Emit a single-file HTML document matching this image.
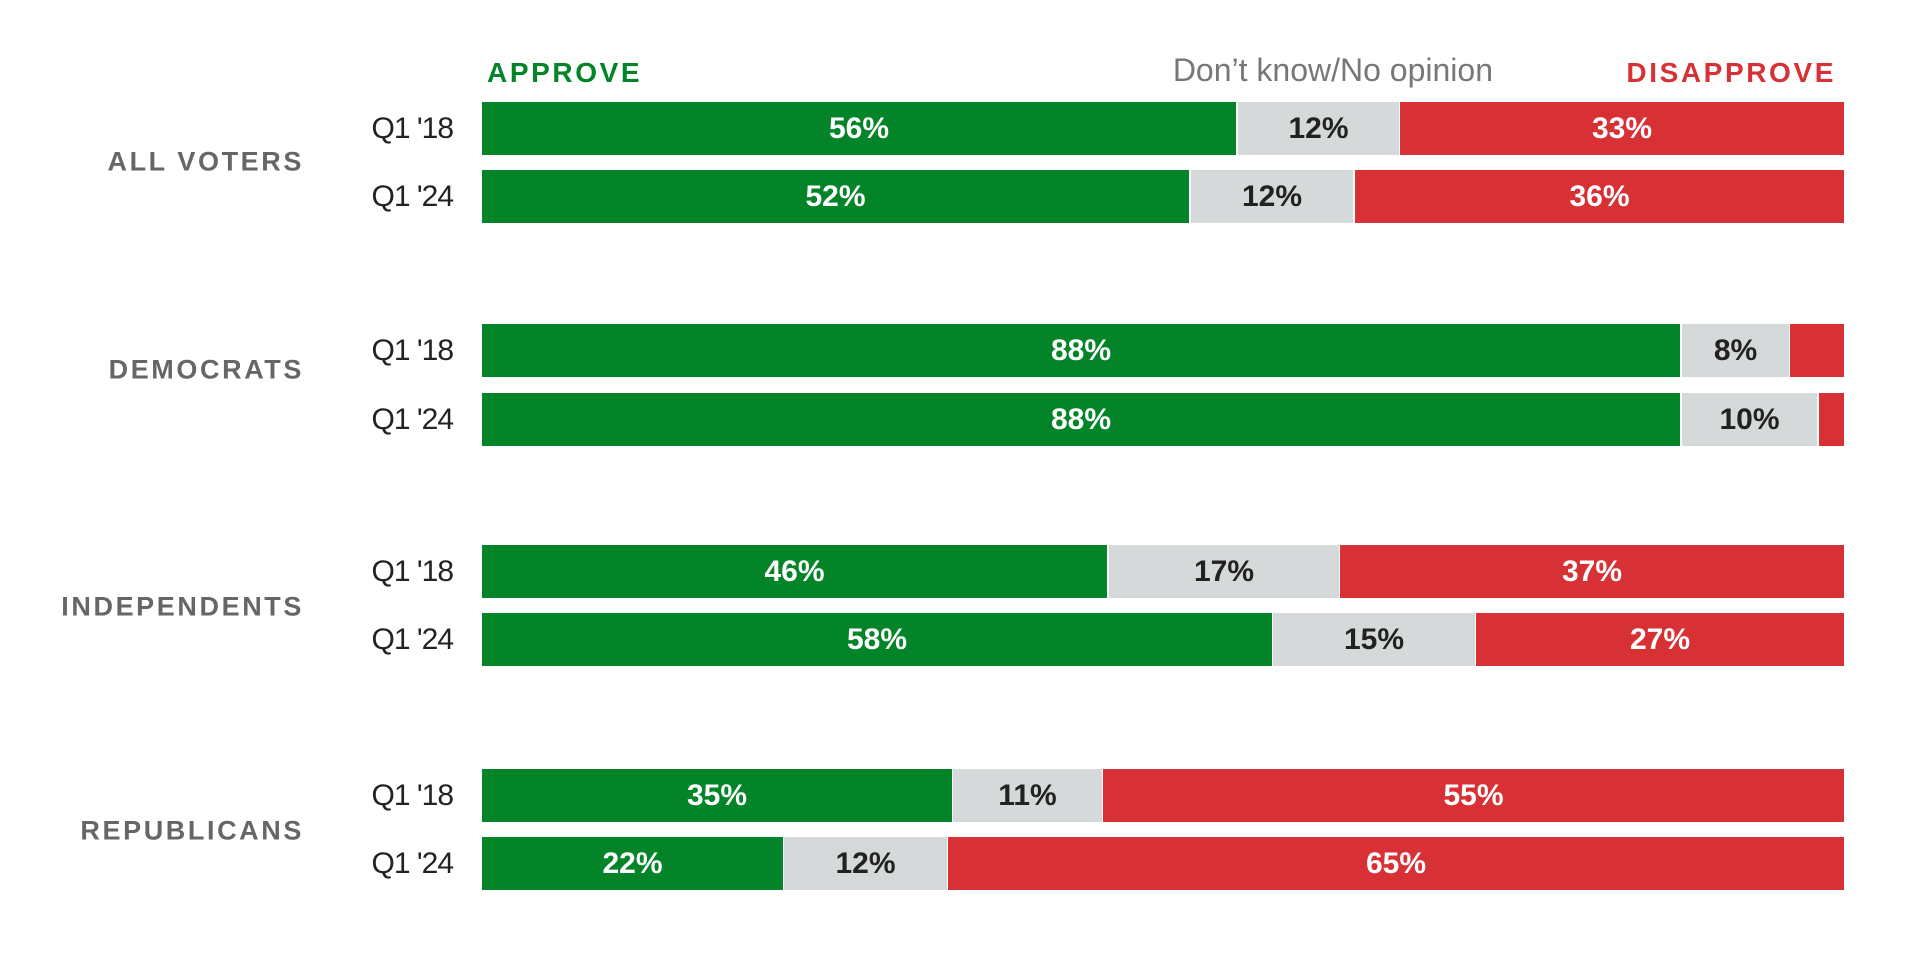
<!DOCTYPE html>
<html><head><style>
body{margin:0;width:1920px;height:960px;background:#fff;font-family:"Liberation Sans",sans-serif;position:relative;overflow:hidden}
.a{position:absolute}
.bar{position:absolute;left:482px;height:53px;width:1362px}
.s{position:absolute;top:0;height:53px;display:flex;align-items:center;justify-content:center;font-weight:bold;font-size:30px;letter-spacing:0px}
.g{background:#038428;color:#fff}.n{background:#d6d9da;color:#222}.r{background:#d83135;color:#fff}
.q{position:absolute;right:1467px;font-size:30px;color:#222;letter-spacing:-1px;line-height:53px}
.grp{position:absolute;right:1616px;font-size:27px;font-weight:bold;color:#666;letter-spacing:2.6px;transform:translateY(-50%)}
</style></head><body>
<div class="a" style="left:487px;top:57px;font-size:28px;font-weight:bold;color:#038428;letter-spacing:2.6px">APPROVE</div>
<div class="a" style="right:427px;top:52px;font-size:32px;color:#777">Don’t know/No opinion</div>
<div class="a" style="right:84px;top:57px;font-size:28px;font-weight:bold;color:#d83135;letter-spacing:2.6px">DISAPPROVE</div>

<div class="grp" style="top:162px">ALL VOTERS</div>
<div class="grp" style="top:370px">DEMOCRATS</div>
<div class="grp" style="top:607px">INDEPENDENTS</div>
<div class="grp" style="top:831px">REPUBLICANS</div>

<div class="q" style="top:102px">Q1 '18</div><div class="q" style="top:170px">Q1 '24</div>
<div class="q" style="top:324px">Q1 '18</div><div class="q" style="top:393px">Q1 '24</div>
<div class="q" style="top:545px">Q1 '18</div><div class="q" style="top:613px">Q1 '24</div>
<div class="q" style="top:769px">Q1 '18</div><div class="q" style="top:837px">Q1 '24</div>

<div class="bar" style="top:102px"><div class="s g" style="left:0;width:754px">56%</div><div class="s n" style="left:756px;width:161px">12%</div><div class="s r" style="left:918px;width:444px">33%</div></div>
<div class="bar" style="top:170px"><div class="s g" style="left:0;width:707px">52%</div><div class="s n" style="left:709px;width:162px">12%</div><div class="s r" style="left:873px;width:489px">36%</div></div>

<div class="bar" style="top:324px"><div class="s g" style="left:0;width:1198px">88%</div><div class="s n" style="left:1200px;width:107px">8%</div><div class="s r" style="left:1308px;width:54px"></div></div>
<div class="bar" style="top:393px"><div class="s g" style="left:0;width:1198px">88%</div><div class="s n" style="left:1200px;width:135px">10%</div><div class="s r" style="left:1337px;width:25px"></div></div>

<div class="bar" style="top:545px"><div class="s g" style="left:0;width:625px">46%</div><div class="s n" style="left:627px;width:230px">17%</div><div class="s r" style="left:858px;width:504px">37%</div></div>
<div class="bar" style="top:613px"><div class="s g" style="left:0;width:790px">58%</div><div class="s n" style="left:791px;width:202px">15%</div><div class="s r" style="left:994px;width:368px">27%</div></div>

<div class="bar" style="top:769px"><div class="s g" style="left:0;width:470px">35%</div><div class="s n" style="left:471px;width:149px">11%</div><div class="s r" style="left:621px;width:741px">55%</div></div>
<div class="bar" style="top:837px"><div class="s g" style="left:0;width:301px">22%</div><div class="s n" style="left:302px;width:163px">12%</div><div class="s r" style="left:466px;width:896px">65%</div></div>
</body></html>
